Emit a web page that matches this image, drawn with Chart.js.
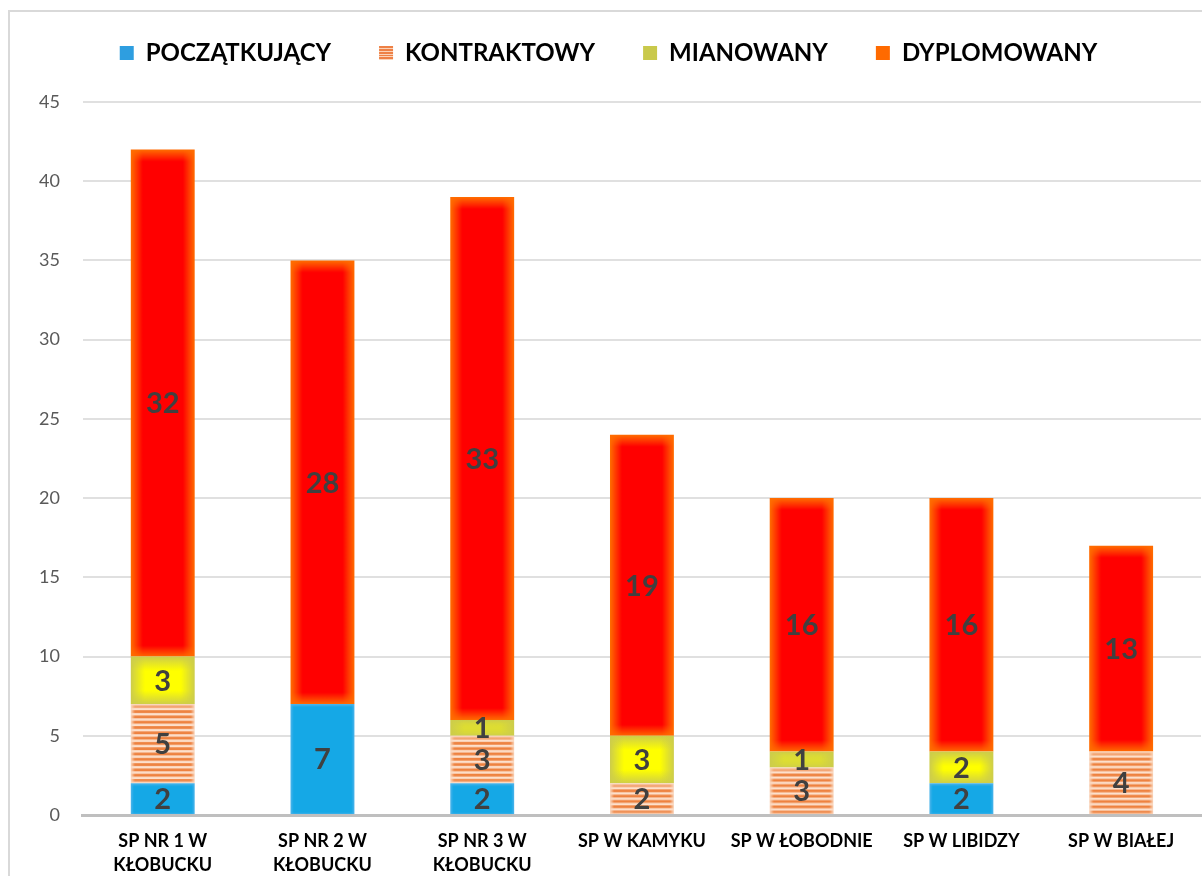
<!DOCTYPE html>
<html><head><meta charset="utf-8">
<script src="https://cdn.jsdelivr.net/npm/chart.js@4/dist/chart.umd.min.js"></script>
<style>
html,body{margin:0;padding:0;background:#fff;overflow:hidden;width:1202px;height:876px;}
#frame{position:absolute;left:8px;top:10px;width:1300px;height:1000px;border-left:2px solid #d9d9d9;border-top:2px solid #d9d9d9;}
#c{position:absolute;left:0;top:0;}
</style></head><body>
<div id="frame"></div>
<canvas id="c" width="1202" height="900"></canvas>
<script>
const categories = [['SP NR 1 W','KŁOBUCKU'],['SP NR 2 W','KŁOBUCKU'],['SP NR 3 W','KŁOBUCKU'],'SP W KAMYKU','SP W ŁOBODNIE','SP W LIBIDZY','SP W BIAŁEJ'];
const seriesNames = ['POCZĄTKUJĄCY','KONTRAKTOWY','MIANOWANY','DYPLOMOWANY'];
const poczatkujacy = [2,7,2,0,0,2,0];
const kontraktowy  = [5,0,3,2,3,0,4];
const mianowany    = [3,0,1,3,1,2,0];
const dyplomowany  = [32,28,33,19,16,16,13];
const yMin = 0, yMax = 45, yStep = 5;

const seriesData = [poczatkujacy, kontraktowy, mianowany, dyplomowany];
const CAT_PCT = 0.8, BAR_PCT = 0.5;

function edgeGlow(g, w, h, rgb, size) {
  const s = size;
  const mk = (x0,y0,x1,y1) => {
    const gr = g.createLinearGradient(x0,y0,x1,y1);
    gr.addColorStop(0, 'rgba(' + rgb + ',1)');
    gr.addColorStop(1, 'rgba(' + rgb + ',0)');
    return gr;
  };
  g.fillStyle = mk(0,0,0,s); g.fillRect(0,0,w,s);
  g.fillStyle = mk(0,h,0,h-s); g.fillRect(0,h-s,w,s);
  g.fillStyle = mk(0,0,s,0); g.fillRect(0,0,s,h);
  g.fillStyle = mk(w,0,w-s,0); g.fillRect(w-s,0,s,h);
}

function makeFill(kind, w, h) {
  const c = document.createElement('canvas');
  c.width = Math.max(1, Math.ceil(w)); c.height = Math.max(1, Math.ceil(h));
  const g = c.getContext('2d');
  const W = c.width, H = c.height;
  if (kind === 'red') {
    g.fillStyle = '#ff0000'; g.fillRect(0,0,W,H);
    edgeGlow(g, W, H, '255,110,0', 12);
  } else if (kind === 'yellow') {
    g.fillStyle = '#ffff00'; g.fillRect(0,0,W,H);
    edgeGlow(g, W, H, '205,205,75', 14);
  } else if (kind === 'stripes') {
    g.fillStyle = '#fde0cc'; g.fillRect(0,0,W,H);
    g.fillStyle = '#ee8240';
    for (let y = 0.8; y < H; y += 5.3) g.fillRect(0, y, W, 2.8);
    edgeGlow(g, W, H, '250,215,190', 4);
  } else {
    g.fillStyle = '#15a8e6'; g.fillRect(0,0,W,H);
    edgeGlow(g, W, H, '80,180,235', 3);
  }
  return c;
}

function segRect(ctx, dsIndex) {
  const chart = ctx.chart, i = ctx.dataIndex;
  const xs = chart.scales.x, ys = chart.scales.y;
  if (!chart.chartArea || !xs || !ys) return null;
  let base = 0;
  for (let d = 0; d < dsIndex; d++) base += seriesData[d][i];
  const v = seriesData[dsIndex][i];
  if (!v) return null;
  const top = ys.getPixelForValue(base + v), bottom = ys.getPixelForValue(base);
  const bw = (xs.width / categories.length) * CAT_PCT * BAR_PCT;
  const xc = xs.getPixelForValue(i);
  if (![top,bottom,bw,xc].every(isFinite)) return null;
  return {x: xc - bw/2, y: top, w: bw, h: bottom - top};
}

function fillFor(kind, dsIndex, fallback) {
  return (ctx) => {
    if (ctx.type !== 'data') return fallback;
    const r = segRect(ctx, dsIndex);
    if (!r || r.w <= 0 || r.h <= 0) return fallback;
    const p = ctx.chart.ctx.createPattern(makeFill(kind, r.w, r.h), 'repeat');
    p.setTransform(new DOMMatrix([1,0,0,1,r.x,r.y]));
    return p;
  };
}

function legendStripes() {
  const c = document.createElement('canvas'); c.width = 14; c.height = 14;
  const g = c.getContext('2d');
  g.fillStyle = '#fbd3b8'; g.fillRect(0,0,14,14);
  g.fillStyle = '#ee8146';
  for (let y = 1; y < 14; y += 3) g.fillRect(0,y,14,2);
  return c;
}

const kinds = ['blue','stripes','yellow','red'];
const fallbacks = ['#15a8e6','#ef8a4f','#ffff00','#ff0000'];
const legendColors = ['#2e9ee0', null, '#c9c94b', '#ff6a00'];

const labelPlugin = {
  id: 'segLabels',
  afterDatasetsDraw(chart) {
    const g = chart.ctx; g.save();
    g.font = 'bold 29px Lato'; g.fillStyle = '#404040';
    g.textAlign = 'center'; g.textBaseline = 'middle';
    chart.data.datasets.forEach((ds, di) => {
      const meta = chart.getDatasetMeta(di);
      meta.data.forEach((el, i) => {
        const v = ds.data[i]; if (!v) return;
        const p = el.getProps(['x','y','base'], true);
        g.fillText(String(v), p.x, (p.y + p.base) / 2 + 1);
      });
    });
    g.restore();
  }
};

// empty layout box giving a gap between the legend and the plot area
const spacerPlugin = {
  id: 'legendGap',
  beforeInit(chart) {
    Chart.layouts.addBox(chart, {
      position: 'top', weight: 500, fullSize: true, options: {},
      left: 0, top: 0, right: 0, bottom: 0, width: 0, height: 0,
      isHorizontal() { return true; },
      update(maxWidth) { this.width = maxWidth; this.height = 27; },
      getPadding() { return {top: 0, left: 0, right: 0, bottom: 0}; },
      draw() {}
    });
  }
};

const ctx = document.getElementById('c').getContext('2d');
const stripePat = ctx.createPattern(legendStripes(), 'repeat');

new Chart(ctx, {
  type: 'bar',
  data: {
    labels: categories,
    datasets: seriesNames.map((name, k) => ({
      label: name,
      data: seriesData[k],
      backgroundColor: fillFor(kinds[k], k, fallbacks[k]),
      borderWidth: 0,
      categoryPercentage: CAT_PCT,
      barPercentage: BAR_PCT
    }))
  },
  options: {
    responsive: false,
    animation: false,
    layout: { padding: { top: -7, left: 16, right: 1, bottom: 9 } },
    plugins: {
      tooltip: { enabled: false },
      legend: {
        position: 'top',
        labels: {
          boxWidth: 14, boxHeight: 14, padding: 48,
          color: '#000',
          font: { family: 'Lato', size: 24, weight: 'bold' },
          generateLabels: (chart) => chart.data.datasets.map((ds, k) => ({
            text: ds.label,
            fillStyle: legendColors[k] || stripePat,
            strokeStyle: 'rgba(0,0,0,0)',
            lineWidth: 0,
            hidden: false,
            datasetIndex: k,
            fontColor: '#000'
          }))
        }
      }
    },
    scales: {
      x: {
        stacked: true,
        grid: { display: false, drawTicks: false },
        border: { display: true, color: '#bfbfbf', width: 3 },
        ticks: { color: '#000', font: { family: 'Lato', size: 18, weight: 'bold', lineHeight: '24px' }, padding: 14, maxRotation: 0, autoSkip: false }
      },
      y: {
        stacked: true,
        min: yMin, max: yMax,
        grid: { color: '#e0e0e0', lineWidth: 2, drawTicks: false },
        border: { display: false },
        ticks: { stepSize: yStep, color: '#595959', font: { family: 'Lato', size: 18 }, padding: 23 }
      }
    }
  },
  plugins: [labelPlugin, spacerPlugin]
});
</script>
</body></html>
